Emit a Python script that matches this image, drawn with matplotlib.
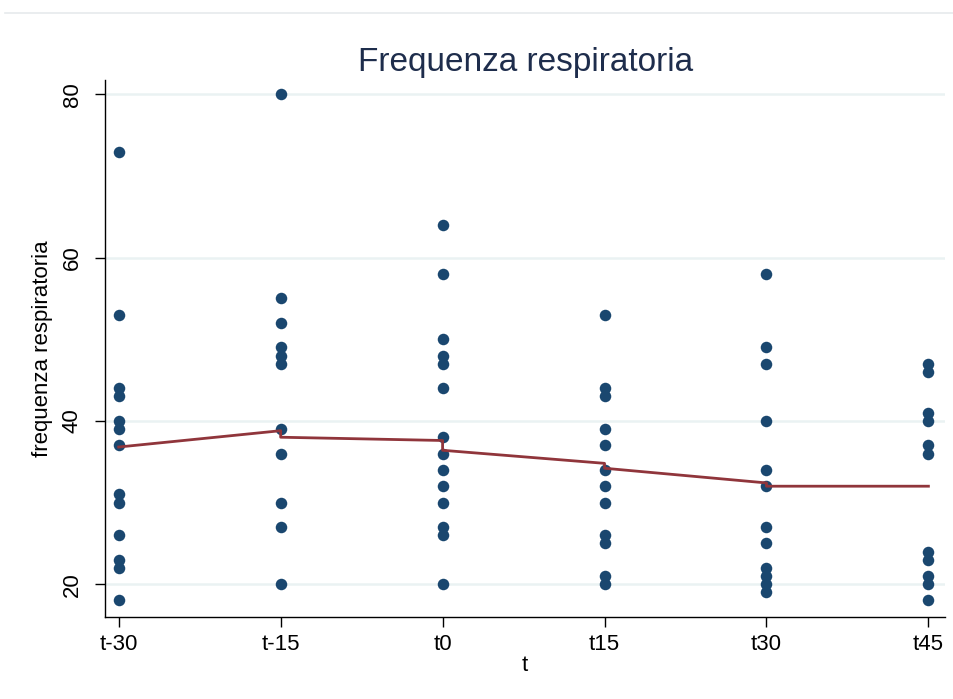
import numpy as np
import matplotlib.pyplot as plt
from matplotlib.lines import Line2D

plt.rcParams['font.family'] = ['Liberation Sans', 'DejaVu Sans']

TIME_LABELS = ['t-30', 't-15', 't0', 't15', 't30', 't45']

# respiratory rate observations at each time point
rr_tm30 = [73, 53, 44, 43, 40, 39, 37, 31, 30, 26, 23, 22, 18]
rr_tm15 = [80, 55, 52, 49, 48, 47, 39, 36, 30, 27, 20]
rr_t0 = [64, 58, 50, 48, 47, 44, 38, 36, 34, 32, 30, 27, 26, 20]
rr_t15 = [53, 44, 43, 39, 37, 34, 32, 30, 26, 25, 21, 20]
rr_t30 = [58, 49, 47, 40, 34, 32, 27, 25, 22, 21, 20, 19]
rr_t45 = [47, 46, 41, 40, 37, 36, 24, 23, 21, 20, 18]

# fitted trend (time index, value), with the jumps at repeated time points
fit_t = [0, 1, 1, 2, 2, 3, 3, 4, 4, 5]
fit_y = [36.8, 38.8, 38.0, 37.6, 36.4, 34.8, 34.2, 32.4, 32.0, 32.0]

Y_TICKS = [20, 40, 60, 80]

NAVY = '#1a476f'
MAROON = '#90353b'
GRID = '#eaf2f3'

groups = [rr_tm30, rr_tm15, rr_t0, rr_t15, rr_t30, rr_t45]

fig = plt.figure(figsize=(9.54, 6.99), dpi=100, facecolor='white')
ax = fig.add_axes([0.110, 0.117, 0.881, 0.769])

for i, vals in enumerate(groups):
    ax.plot([i] * len(vals), vals, 'o', color=NAVY, markersize=8.3,
            markeredgewidth=0, zorder=3)

ax.plot(fit_t, fit_y, color=MAROON, lw=2.0, zorder=4)

ax.set_xlim(-0.085, 5.105)
ax.set_ylim(15.95, 81.8)

ax.set_xticks(range(len(TIME_LABELS)))
ax.set_xticklabels(TIME_LABELS, fontsize=16)
ax.set_yticks(Y_TICKS)
ax.set_yticklabels([str(v) for v in Y_TICKS], fontsize=16,
                   rotation=90, va='center')

ax.yaxis.grid(True, color=GRID, lw=1.8)
ax.set_axisbelow(True)
ax.tick_params(axis='both', direction='out', length=7, width=1,
               color='black', labelcolor='black')
ax.tick_params(axis='x', pad=5)
ax.tick_params(axis='y', pad=9)

for side in ['top', 'right']:
    ax.spines[side].set_visible(False)
for side in ['left', 'bottom']:
    ax.spines[side].set_linewidth(1.0)
    ax.spines[side].set_color('black')

ax.set_xlabel('t', fontsize=16, labelpad=0)
ax.set_ylabel('frequenza respiratoria', fontsize=16, labelpad=6)
ax.set_title('Frequenza respiratoria', fontsize=24, color='#1e2d4c', pad=6)

# thin rule across the top of the figure
fig.add_artist(Line2D([0.005, 1.0], [0.981, 0.981], transform=fig.transFigure,
                      color='#e6eaec', lw=1.2))

fig.savefig('out.png', dpi=100, facecolor='white')
